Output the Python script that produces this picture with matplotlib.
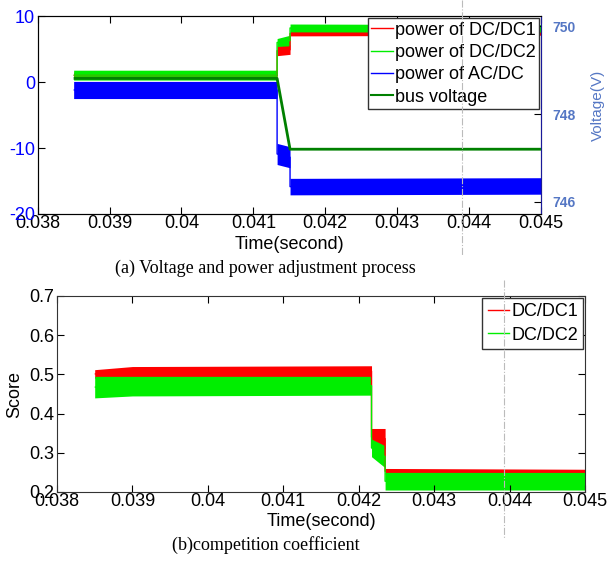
import numpy as np
import matplotlib.pyplot as plt
from matplotlib.lines import Line2D

plt.rcParams['font.family'] = ['Liberation Sans', 'DejaVu Sans']
plt.rcParams['axes.unicode_minus'] = False

# (a) power envelopes, left axis (kW)
pw_t = [0.0385, 0.04133, 0.04133, 0.04151, 0.04151, 0.045]
dc1_hi = [1.5, 1.5, 5.5, 5.6, 7.7, 7.7]
dc1_lo = [0.5, 0.5, 4.0, 4.2, 7.0, 7.1]
dc2_hi = [1.8, 1.8, 6.6, 7.1, 8.8, 8.7]
dc2_lo = [0.3, 0.3, 5.4, 5.5, 7.6, 7.5]
ac_hi = [0.1, 0.1, -9.3, -9.8, -14.6, -14.5]
ac_lo = [-2.5, -2.5, -12.5, -13.0, -17.1, -17.0]

# bus voltage, right axis (V)
bus_t = [0.0385, 0.04133, 0.04151, 0.045]
bus_v = [748.81, 748.81, 747.20, 747.20]

# (b) competition coefficient envelopes
sc_t = [0.0385, 0.0390, 0.04217, 0.04217, 0.04235, 0.04235, 0.045]
s1_hi = [0.512, 0.520, 0.522, 0.362, 0.362, 0.260, 0.258]
s1_lo = [0.490, 0.494, 0.494, 0.318, 0.310, 0.246, 0.246]
s2_hi = [0.495, 0.495, 0.495, 0.335, 0.318, 0.250, 0.250]
s2_lo = [0.440, 0.445, 0.447, 0.290, 0.262, 0.205, 0.205]

xticks = [0.038, 0.039, 0.04, 0.041, 0.042, 0.043, 0.044, 0.045]
xlabels = ['0.038', '0.039', '0.04', '0.041', '0.042', '0.043', '0.044', '0.045']

RED = '#ff0000'
GRN = '#00ee00'
BLU = '#0000ff'
BUS = '#008000'
RBLUE = '#5577c4'


def band(ax, t, lo, hi, color):
    # envelope of the switching ripple plus a thin mid line so the steps join up
    ax.fill_between(t, lo, hi, color=color, lw=0)
    ax.plot(t, (np.array(lo) + np.array(hi)) / 2, color=color, lw=1,
            solid_capstyle='butt')


fig = plt.figure(figsize=(6.1, 5.67), dpi=100)

# ---------- (a) ----------
ax1 = fig.add_axes([0.0618, 0.6226, 0.825, 0.349])
band(ax1, pw_t, dc1_lo, dc1_hi, RED)
band(ax1, pw_t, dc2_lo, dc2_hi, GRN)
band(ax1, pw_t, ac_lo, ac_hi, BLU)
ax1.set_xlim(0.038, 0.045)
ax1.set_ylim(-20, 10)
ax1.set_xticks(xticks, xlabels)
ax1.set_yticks([-20, -10, 0, 10])
ax1.tick_params(direction='in', top=True, labelsize=13, length=5, pad=1)
ax1.tick_params(axis='y', labelcolor=BLU, pad=2)
ax1.set_xlabel('Time(second)', fontsize=13)
ax1.xaxis.set_label_coords(0.5, -0.11)
for s in ax1.spines.values():
    s.set_color('#333333')

ax2 = ax1.twinx()
ax2.plot(bus_t, bus_v, color=BUS, lw=2, solid_capstyle='butt')
ax2.set_ylim(745.727, 750.227)
ax2.set_yticks([746, 748, 750])
ax2.tick_params(direction='in', length=5, labelsize=10, labelcolor=RBLUE, pad=8)
for lb in ax2.get_yticklabels():
    lb.set_fontweight('bold')
ax2.spines['right'].set_color('#1a1a9a')

h1 = [Line2D([], [], color=RED, lw=1), Line2D([], [], color=GRN, lw=1),
      Line2D([], [], color=BLU, lw=1), Line2D([], [], color=BUS, lw=1.5)]
leg1 = ax2.legend(h1, ['power of DC/DC1', 'power of DC/DC2', 'power of AC/DC', 'bus voltage'],
                  loc='upper right', fontsize=13, fancybox=False, framealpha=1,
                  edgecolor='#333333', handlelength=1.2, handletextpad=0.1,
                  labelspacing=0.3, borderpad=0.2, borderaxespad=0.1)
leg1.get_frame().set_linewidth(1)

fig.text(598 / 610, 1 - 105 / 567, 'Voltage(V)', rotation=90, color=RBLUE,
         fontsize=11, ha='center', va='center')
fig.text(0.435, 0.527, '(a) Voltage and power adjustment process',
         family='Liberation Serif', fontsize=13, ha='center', va='center')

# ---------- (b) ----------
ax3 = fig.add_axes([0.0934, 0.1323, 0.8656, 0.3457])
band(ax3, sc_t, s1_lo, s1_hi, RED)
band(ax3, sc_t, s2_lo, s2_hi, GRN)
ax3.set_xlim(0.038, 0.045)
ax3.set_ylim(0.2, 0.7)
ax3.set_xticks(xticks, xlabels)
ax3.set_yticks([0.2, 0.3, 0.4, 0.5, 0.6, 0.7])
ax3.tick_params(direction='in', top=True, right=True, labelsize=13, length=5, pad=1)
ax3.tick_params(axis='y', pad=2)
ax3.set_xlabel('Time(second)', fontsize=13)
ax3.xaxis.set_label_coords(0.5, -0.105)
for s in ax3.spines.values():
    s.set_color('#333333')
fig.text(15 / 610, 1 - 394 / 567, 'Score', rotation=90, fontsize=13,
         ha='center', va='center')

h2 = [Line2D([], [], color=RED, lw=1), Line2D([], [], color=GRN, lw=1)]
leg2 = ax3.legend(h2, ['DC/DC1', 'DC/DC2'], loc='upper right', fontsize=13,
                  fancybox=False, framealpha=1, edgecolor='#333333',
                  handlelength=1.2, handletextpad=0.1, labelspacing=0.35,
                  borderpad=0.3, borderaxespad=0.1)
leg2.get_frame().set_linewidth(1)

fig.text(0.436, 0.039, '(b)competition coefficient',
         family='Liberation Serif', fontsize=13, ha='center', va='center')

# faint fold marks from the scanned page
fig.add_artist(Line2D([462 / 610, 462 / 610], [1.0, 0.55], color='#bbbbbb', lw=0.8, ls='-.'))
fig.add_artist(Line2D([504 / 610, 504 / 610], [1 - 280 / 567, 1 - 538 / 567], color='#bbbbbb', lw=0.8, ls='-.'))

fig.savefig('out.png', dpi=100)
